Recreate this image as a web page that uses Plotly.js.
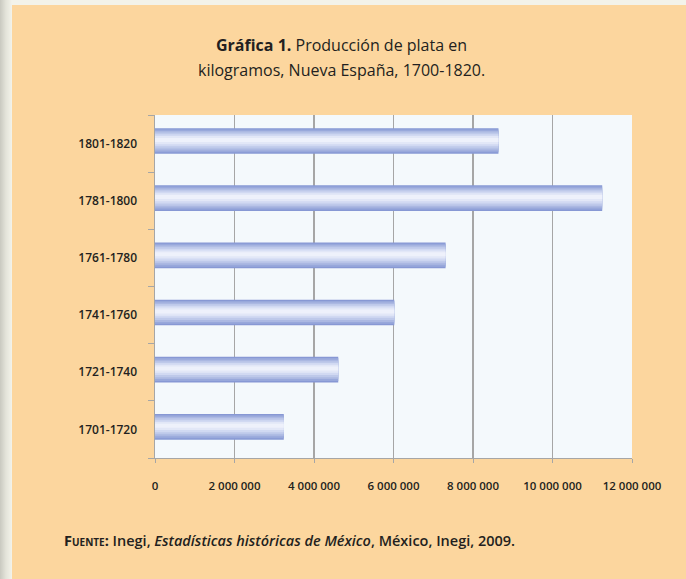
<!DOCTYPE html>
<html>
<head>
<meta charset="utf-8">
<script src="https://cdn.plot.ly/plotly-3.0.1.min.js"></script>
<style>
  html, body { margin: 0; padding: 0; }
  #frame { position: absolute; left: 0; top: 0; width: 686px; height: 579px;
           background: linear-gradient(to right, #c9c9c0 0px, #e4e4da 6px, #f3f3ea 12px); }
  #chart { position: absolute; left: 12px; top: 5px; width: 674px; height: 574px; }
</style>
</head>
<body>
<div id="frame"><div id="chart"></div></div>
<script>
// ---- data ----
const periods = ['1701-1720', '1721-1740', '1741-1760', '1761-1780', '1781-1800', '1801-1820'];
const silverKg = [3240000, 4610000, 6020000, 7310000, 11250000, 8640000];
const xTickVals = [0, 2000000, 4000000, 6000000, 8000000, 10000000, 12000000];

// ---- style (gradient emulated by overlaid bars of decreasing thickness) ----
const layers = [
  { w: 0.45, c: '#8798d4' },
  { w: 0.40, c: '#98a8db' },
  { w: 0.34, c: '#abb8e2' },
  { w: 0.28, c: '#bec9ea' },
  { w: 0.21, c: '#d1d9f2' },
  { w: 0.14, c: '#e2e7f7' },
  { w: 0.07, c: '#eef1fb' }
];
const shiftUp = 0.045;

const traces = layers.map(l => ({
  type: 'bar',
  orientation: 'h',
  y: periods,
  x: silverKg,
  width: l.w,
  offset: -l.w / 2 + shiftUp + (0.45 - l.w) * 0.05,
  marker: { color: l.c, line: { width: 0 } },
  hoverinfo: 'skip',
  showlegend: false
}));

const fontFam = '"Open Sans", "Noto Sans", sans-serif';

const layout = {
  width: 674, height: 574,
  margin: { l: 143, r: 54, t: 110, b: 121, pad: 0 },
  paper_bgcolor: '#fcd69e',
  plot_bgcolor: '#f4f9fc',
  barmode: 'overlay',
  separators: '. ',
  font: { family: fontFam, color: '#231f20' },
  xaxis: {
    range: [0, 12000000],
    tickvals: xTickVals,
    tickformat: ',d',
    showgrid: true, gridcolor: '#a6a6a6', gridwidth: 1.5,
    zeroline: false,
    showline: true, linecolor: '#a6a6a6', linewidth: 1,
    ticks: 'outside', ticklen: 4, tickcolor: '#a6a6a6',
    ticklabelstandoff: 13,
    tickfont: { size: 11.5, family: fontFam, color: '#231f20', weight: 600 },
    fixedrange: true
  },
  yaxis: {
    type: 'category',
    categoryorder: 'array', categoryarray: periods,
    showgrid: false, zeroline: false,
    showline: true, linecolor: '#a6a6a6', linewidth: 1.5,
    ticks: 'outside', tickson: 'boundaries', ticklen: 6, tickcolor: '#a6a6a6',
    ticklabelstandoff: 14,
    tickfont: { size: 12, family: fontFam, color: '#231f20', weight: 600 },
    fixedrange: true
  },
  annotations: [
    { xref: 'paper', yref: 'paper', x: 0.39, y: 1.204, xanchor: 'center', yanchor: 'middle',
      showarrow: false, text: '<b>Gráfica 1.</b> Producción de plata en',
      font: { size: 16, family: fontFam, color: '#231f20' } },
    { xref: 'paper', yref: 'paper', x: 0.39, y: 1.131, xanchor: 'center', yanchor: 'middle',
      showarrow: false, text: 'kilogramos, Nueva España, 1700-1820.',
      font: { size: 16, family: fontFam, color: '#231f20' } },
    { xref: 'paper', yref: 'paper', x: -0.195, y: -0.24, xanchor: 'left', yanchor: 'middle',
      showarrow: false,
      text: '<b>F<span style="font-size:10px">UENTE</span>:</b> Inegi, <i>Estadísticas históricas de México</i>, México, Inegi, 2009.',
      font: { size: 14.5, family: fontFam, color: '#231f20', weight: 600 } }
  ]
};

Plotly.newPlot('chart', traces, layout, { displayModeBar: false, staticPlot: true });
</script>
</body>
</html>
